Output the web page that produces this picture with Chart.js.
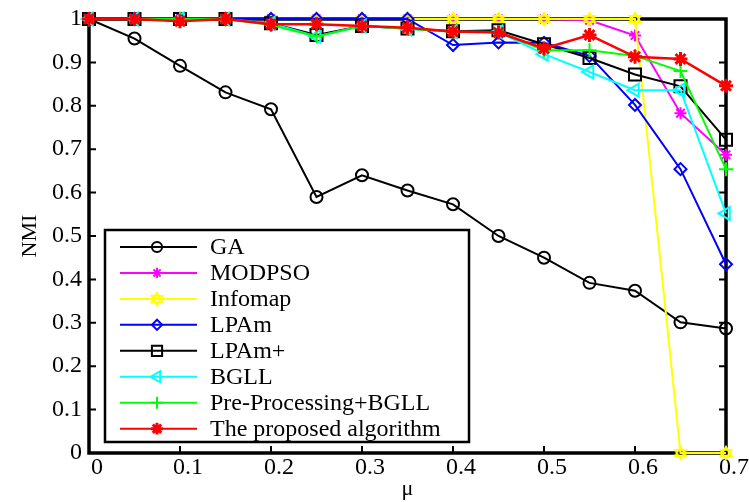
<!DOCTYPE html>
<html><head><meta charset="utf-8">
<script src="https://cdn.jsdelivr.net/npm/chart.js@4.4.1/dist/chart.umd.min.js"></script>
<style>html,body{margin:0;padding:0;background:#fff;}#wrap{width:749px;height:502px;}</style>
</head><body><div id="wrap"><canvas id="c" width="749" height="502"></canvas></div>
<script>
// ---- data ----
const mu = [0, 0.05, 0.1, 0.15, 0.2, 0.25, 0.3, 0.35, 0.4, 0.45, 0.5, 0.55, 0.6, 0.65, 0.7];
const seriesNames = ['GA', 'MODPSO', 'Infomap', 'LPAm', 'LPAm+', 'BGLL', 'Pre-Processing+BGLL', 'The proposed algorithm'];
const GA       = [1.0, 0.955, 0.892, 0.831, 0.792, 0.590, 0.640, 0.605, 0.573, 0.500, 0.450, 0.392, 0.374, 0.301, 0.287];
const MODPSO   = [1, 1, 1, 1, 1, 1, 1, 1, 1, 1, 1, 0.997, 0.962, 0.783, 0.687];
const Infomap  = [1, 1, 1, 1, 1, 1, 1, 1, 1, 1, 1, 1, 1, 0, 0];
const LPAm     = [1, 1, 1, 1, 1, 1, 1, 1, 0.940, 0.946, 0.945, 0.915, 0.802, 0.654, 0.435];
const LPAmPlus = [1, 1, 1, 1, 0.990, 0.963, 0.984, 0.978, 0.972, 0.974, 0.942, 0.910, 0.872, 0.845, 0.722];
const BGLL     = [1, 1, 1, 1, 0.990, 0.960, 0.984, 0.977, 0.971, 0.970, 0.919, 0.878, 0.836, 0.836, 0.552];
const PreBGLL  = [1, 1, 1, 1, 0.986, 0.960, 0.984, 0.978, 0.970, 0.970, 0.928, 0.928, 0.915, 0.880, 0.654];
const Proposed = [1, 1, 0.995, 1, 0.988, 0.988, 0.984, 0.980, 0.971, 0.969, 0.932, 0.963, 0.913, 0.908, 0.846];
const xTicks = [0, 0.1, 0.2, 0.3, 0.4, 0.5, 0.6, 0.7];
const yTicks = [0, 0.1, 0.2, 0.3, 0.4, 0.5, 0.6, 0.7, 0.8, 0.9, 1];
const xTitle = 'μ';
const yTitle = 'NMI';
const allSeries = [GA, MODPSO, Infomap, LPAm, LPAmPlus, BGLL, PreBGLL, Proposed];

// ---- styles ----
function hexagram(color) {
  const c = document.createElement('canvas'); c.width = 16; c.height = 16;
  const g = c.getContext('2d'); g.strokeStyle = color; g.lineWidth = 1.8;
  const r = 6.3, cx = 8, cy = 8;
  for (let t = 0; t < 2; t++) {
    g.beginPath();
    for (let k = 0; k < 3; k++) {
      const a = -Math.PI / 2 + t * Math.PI + k * 2 * Math.PI / 3;
      const px = cx + r * Math.cos(a), py = cy + r * Math.sin(a);
      if (k === 0) g.moveTo(px, py); else g.lineTo(px, py);
    }
    g.closePath(); g.stroke();
  }
  return c;
}
const styles = [
  {color: '#000000', pointStyle: 'circle', radius: 6, bw: 2, lw: 2, rot: 0},
  {color: '#ff00ff', pointStyle: 'star', radius: 6, bw: 2, lw: 2, rot: 0},
  {color: '#ffff00', pointStyle: hexagram('#ffff00'), radius: 6, bw: 2, lw: 2, rot: 0},
  {color: '#0000ff', pointStyle: 'rectRot', radius: 6, bw: 2, lw: 2, rot: 0},
  {color: '#000000', pointStyle: 'rect', radius: 8.5, bw: 2, lw: 2, rot: 0},
  {color: '#00ffff', pointStyle: 'triangle', radius: 7.5, bw: 2, lw: 2, rot: -90},
  {color: '#00ff00', pointStyle: 'cross', radius: 7, bw: 2, lw: 2, rot: 0},
  {color: '#ff0000', pointStyle: 'star', radius: 7, bw: 3, lw: 2.5, rot: 0}
];
const FONT = 'Liberation Serif';
const fmt = v => String(+(+v).toFixed(1));

const datasets = allSeries.map((arr, i) => ({
  label: seriesNames[i],
  data: mu.map((m, j) => ({x: m, y: arr[j]})),
  borderColor: styles[i].color,
  backgroundColor: 'rgba(0,0,0,0)',
  borderWidth: styles[i].lw,
  pointStyle: styles[i].pointStyle,
  pointRadius: styles[i].radius,
  pointBorderWidth: styles[i].bw,
  pointBorderColor: styles[i].color,
  pointBackgroundColor: 'rgba(0,0,0,0)',
  pointRotation: styles[i].rot,
  tension: 0,
  clip: false,
  order: allSeries.length - i
}));

const framePlugin = {
  id: 'frame',
  beforeDatasetsDraw(chart) {
    const {ctx, chartArea: a, scales} = chart;
    ctx.save();
    ctx.strokeStyle = '#000';
    ctx.lineWidth = 2;
    const tl = 7;
    ctx.beginPath();
    yTicks.forEach(v => {
      const y = scales.y.getPixelForValue(v);
      ctx.moveTo(a.left, y); ctx.lineTo(a.left + tl, y);
      ctx.moveTo(a.right, y); ctx.lineTo(a.right - tl, y);
    });
    xTicks.forEach(v => {
      const x = scales.x.getPixelForValue(v);
      ctx.moveTo(x, a.bottom); ctx.lineTo(x, a.bottom - tl);
    });
    ctx.stroke();
    ctx.lineWidth = 3.5;
    ctx.strokeRect(a.left, a.top, a.right - a.left, a.bottom - a.top);
    ctx.restore();
  }
};

const legendPlugin = {
  id: 'boxLegend',
  afterDraw(chart) {
    const {ctx} = chart;
    const bx = 105, by = 230, bw = 364, bh = 212;
    ctx.save();
    ctx.fillStyle = '#fff';
    ctx.fillRect(bx, by, bw, bh);
    ctx.strokeStyle = '#000';
    ctx.lineWidth = 2.5;
    ctx.strokeRect(bx, by, bw, bh);
    chart.data.datasets.forEach((ds, i) => {
      const y = by + 17 + i * 25.95;
      const s = styles[i];
      ctx.strokeStyle = s.color;
      ctx.lineWidth = 2;
      ctx.beginPath(); ctx.moveTo(120, y); ctx.lineTo(197, y); ctx.stroke();
      ctx.fillStyle = 'rgba(0,0,0,0)';
      ctx.strokeStyle = s.color;
      ctx.lineWidth = s.bw;
      Chart.helpers.drawPoint(ctx, {pointStyle: s.pointStyle, radius: s.radius * 0.85, rotation: s.rot, borderWidth: s.bw}, 157, y);
      ctx.fillStyle = '#000';
      ctx.font = '24px "' + FONT + '"';
      ctx.textBaseline = 'middle';
      ctx.textAlign = 'left';
      ctx.fillText(ds.label, 210, y + 1);
    });
    ctx.restore();
  }
};

new Chart(document.getElementById('c'), {
  type: 'line',
  data: {datasets},
  options: {
    responsive: false,
    animation: false,
    devicePixelRatio: 1,
    layout: {padding: {left: 0, right: 23, top: 13, bottom: 0}},
    plugins: {legend: {display: false}, tooltip: {enabled: false}},
    scales: {
      x: {
        type: 'linear', min: 0, max: 0.7,
        afterBuildTicks: s => { s.ticks = xTicks.map(v => ({value: v})); },
        afterFit: s => { s.height = 49; },
        grid: {display: false, drawTicks: false},
        border: {display: false},
        ticks: {color: '#000', font: {family: FONT, size: 24, lineHeight: 1}, padding: 3, labelOffset: 8, maxRotation: 0, autoSkip: false, callback: v => fmt(v)},
        title: {display: true, text: xTitle, color: '#000', font: {family: FONT, size: 22}, padding: {top: 0, bottom: 0}}
      },
      y: {
        type: 'linear', min: 0, max: 1,
        afterBuildTicks: s => { s.ticks = yTicks.map(v => ({value: v})); },
        afterFit: s => { s.width = 89; },
        grid: {display: false, drawTicks: false},
        border: {display: false},
        ticks: {color: '#000', font: {family: FONT, size: 24, lineHeight: 1}, padding: 7, callback: v => fmt(v)},
        title: {display: true, text: yTitle, color: '#000', font: {family: FONT, size: 22}, padding: {top: 17, bottom: 0}}
      }
    }
  },
  plugins: [framePlugin, legendPlugin]
});
</script>
</body></html>
